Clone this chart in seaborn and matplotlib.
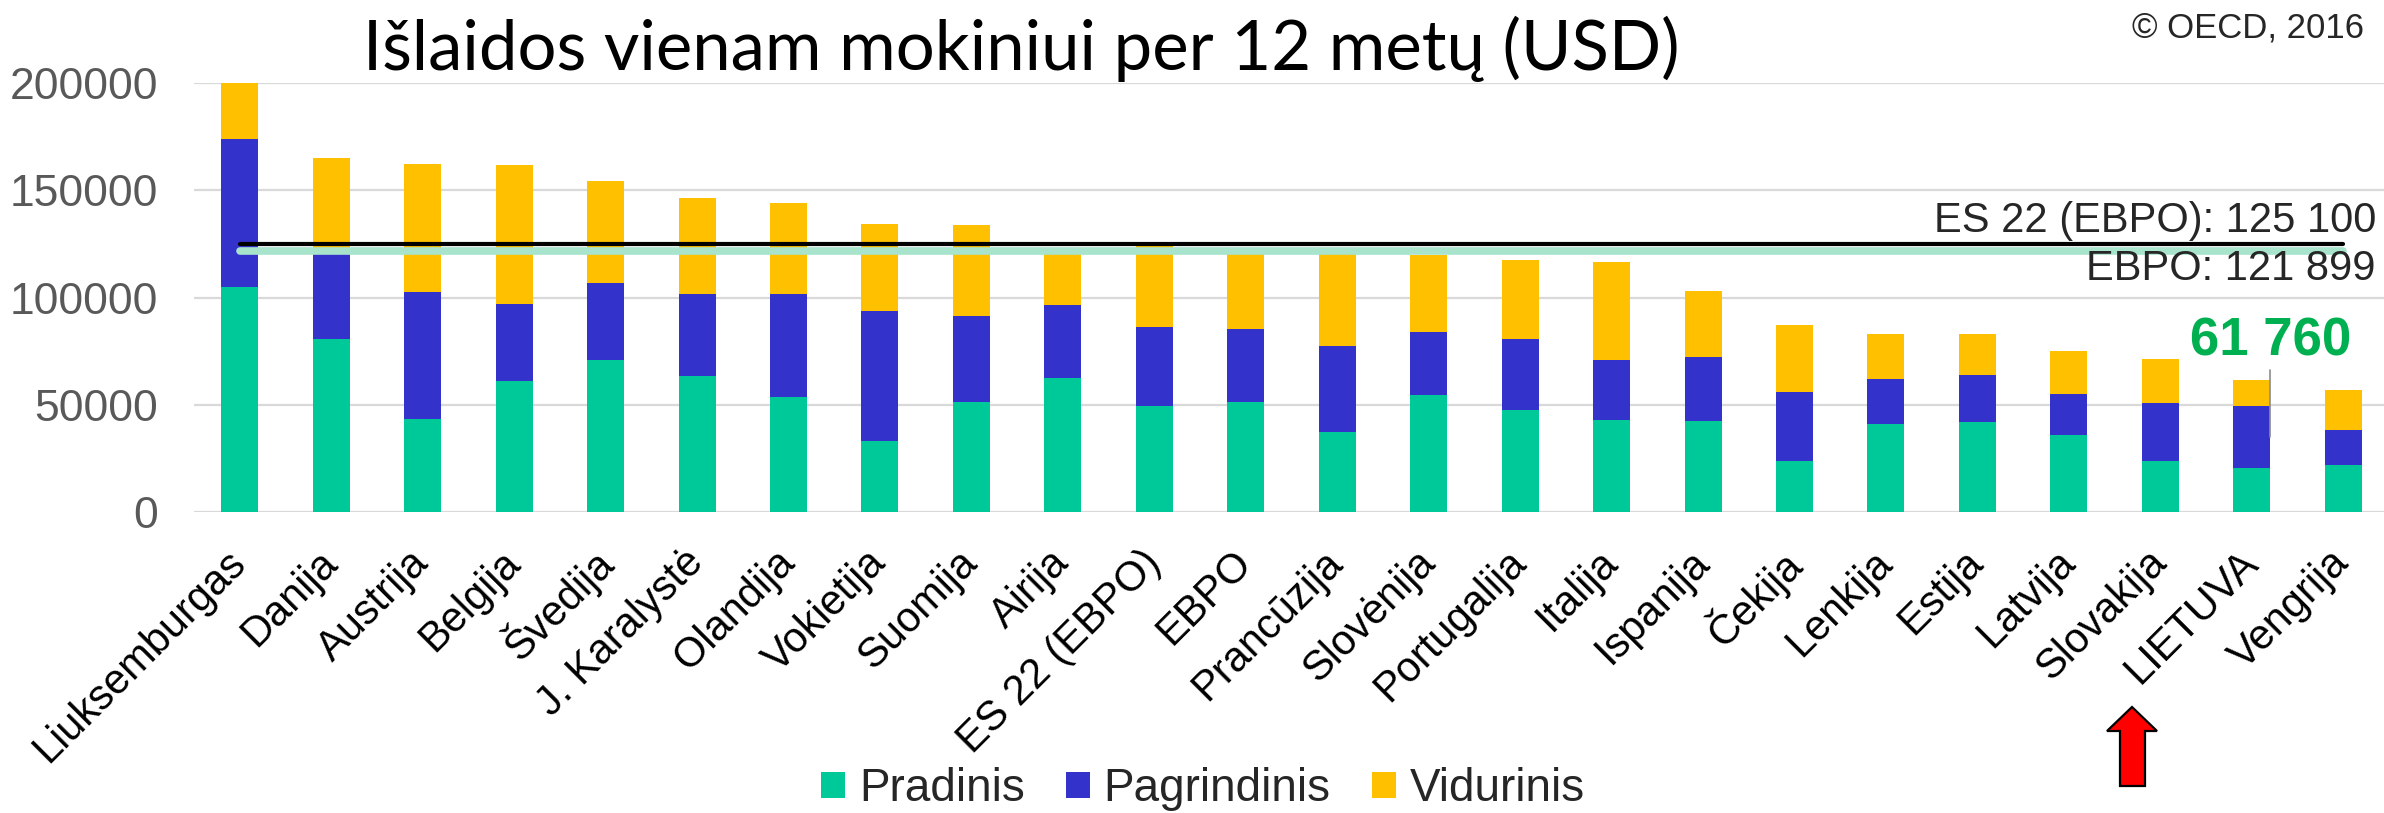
import matplotlib
matplotlib.use("Agg")
import matplotlib.pyplot as plt
from matplotlib.patches import Patch, Polygon
import numpy as np
import pandas as pd
import seaborn as sns

# ---------------- data ----------------
countries = ["Liuksemburgas", "Danija", "Austrija", "Belgija", "Švedija", "J. Karalystė",
             "Olandija", "Vokietija", "Suomija", "Airija", "ES 22 (EBPO)", "EBPO",
             "Prancūzija", "Slovėnija", "Portugalija", "Italija", "Ispanija", "Čekija",
             "Lenkija", "Estija", "Latvija", "Slovakija", "LIETUVA", "Vengrija"]
pradinis = [105000, 80800, 43400, 61000, 71000, 63600, 53500, 33300, 51100, 62300, 49500, 51100,
            37100, 54400, 47400, 43000, 42300, 23700, 41200, 42100, 36100, 23700, 20700, 22100]
pagrindinis = [69000, 41200, 59300, 35800, 35600, 38000, 48300, 60300, 40300, 34000, 36600, 34400,
               40300, 29400, 33400, 27700, 29800, 32400, 20800, 21700, 18700, 26900, 28500, 16000]
vidurinis = [26000, 43000, 59500, 64900, 47700, 44700, 42400, 40500, 42400, 25700, 39000, 36399,
             44100, 36000, 36800, 45700, 30900, 31200, 21200, 19200, 20400, 20900, 12560, 19000]
series_names = ["Pradinis", "Pagrindinis", "Vidurinis"]
es22_value = 125100
ebpo_value = 121899
lt_value = 61760
title = "Išlaidos vienam mokiniui per 12 metų (USD)"
yticks = [0, 50000, 100000, 150000, 200000]

# ---------------- style ----------------
C_GREEN = "#00C999"
C_BLUE = "#3333CC"
C_YELLOW = "#FFC000"
C_LINE_GREEN = "#A8E4CC"

sns.set_style("white")
plt.rcParams["font.family"] = ["Liberation Sans", "DejaVu Sans"]

W, H, DPI = 2384, 813, 100
fig = plt.figure(figsize=(W / DPI, H / DPI), dpi=DPI)
ax_left, ax_right, ax_bottom, ax_top = 194, 2389, 512, 83
ax = fig.add_axes([ax_left / W, (H - ax_bottom) / H, (ax_right - ax_left) / W, (ax_bottom - ax_top) / H])

df = pd.DataFrame({"country": countries, "Pradinis": pradinis,
                   "Pagrindinis": pagrindinis, "Vidurinis": vidurinis})
df["lvl1"] = df["Pradinis"]
df["lvl2"] = df["Pradinis"] + df["Pagrindinis"]
df["lvl3"] = df["lvl2"] + df["Vidurinis"]

bw = 0.405
for col, colr in [("lvl3", C_YELLOW), ("lvl2", C_BLUE), ("lvl1", C_GREEN)]:
    sns.barplot(data=df, x="country", y=col, order=countries, color=colr, saturation=1,
                width=bw, linewidth=0, ax=ax, zorder=2)

# reference lines
ax.plot([0, len(countries) - 1], [ebpo_value, ebpo_value], color=C_LINE_GREEN, lw=5.5,
        solid_capstyle="round", zorder=4)
ax.plot([0, len(countries) - 1], [es22_value, es22_value], color="black", lw=3,
        solid_capstyle="round", zorder=5)

# small gray marker line at LIETUVA
i_lt = countries.index("LIETUVA")
ax.plot([i_lt + bw / 2, i_lt + bw / 2], [35000, 66000], color="#8c8c8c", lw=1.2, zorder=6)

ax.set_xlim(-0.5, len(countries) - 0.5)
ax.set_ylim(0, 200000)
ax.set_yticks(yticks)
ax.set_yticklabels([str(v) for v in yticks])
ax.yaxis.grid(True, color="#D9D9D9", lw=1.6)
ax.set_axisbelow(True)
sns.despine(ax=ax, left=True, bottom=True)
ax.set_xlabel("")
ax.set_ylabel("")
ax.tick_params(axis="y", length=0, pad=26, labelsize=32, labelcolor="#595959")
ax.tick_params(axis="x", length=0, pad=32, labelsize=30, labelcolor="black")
ax.set_xticks(range(len(countries)))
ax.set_xticklabels(countries, rotation=45, ha="right", va="center", rotation_mode="anchor")

# texts
fig.text(2376 / W, (H - 232) / H, "ES 22 (EBPO): 125 100", ha="right", va="baseline", fontsize=30)
fig.text(2376 / W, (H - 280) / H, "EBPO: 121 899", ha="right", va="baseline", fontsize=30)
fig.text(2351 / W, (H - 356) / H, "61 760", ha="right", va="baseline", fontsize=38,
         fontweight="bold", color="#00B050")
fig.text(2364 / W, (H - 37) / H, "© OECD, 2016", ha="right", va="baseline", fontsize=25,
         color="#262626")
t = fig.text(363 / W, (H - 70) / H, title, ha="left", va="baseline", fontsize=50,
             family=["Lato", "DejaVu Sans"], color="black")
fig.canvas.draw()
w = t.get_window_extent().width
t.set_fontsize(50 * 1317 / w)

# legend
handles = [Patch(facecolor=c, edgecolor="none") for c in (C_GREEN, C_BLUE, C_YELLOW)]
fig.legend(handles, series_names, loc="center", bbox_to_anchor=(1203 / W, 24 / H),
           ncol=3, frameon=False, fontsize=33, handlelength=0.52, handleheight=0.5,
           handletextpad=0.3, columnspacing=0.9, borderpad=0, borderaxespad=0)

# red arrow pointing at LIETUVA
px = lambda x, y: (x / DPI, (H - y) / DPI)
verts = [px(2132, 707), px(2157, 731), px(2145, 731), px(2145, 786),
         px(2120, 786), px(2120, 731), px(2107, 731)]
fig.add_artist(Polygon(verts, closed=True, facecolor="#FF0000", edgecolor="black", lw=1.6,
                       transform=fig.dpi_scale_trans))

fig.savefig("out.png", dpi=DPI)
